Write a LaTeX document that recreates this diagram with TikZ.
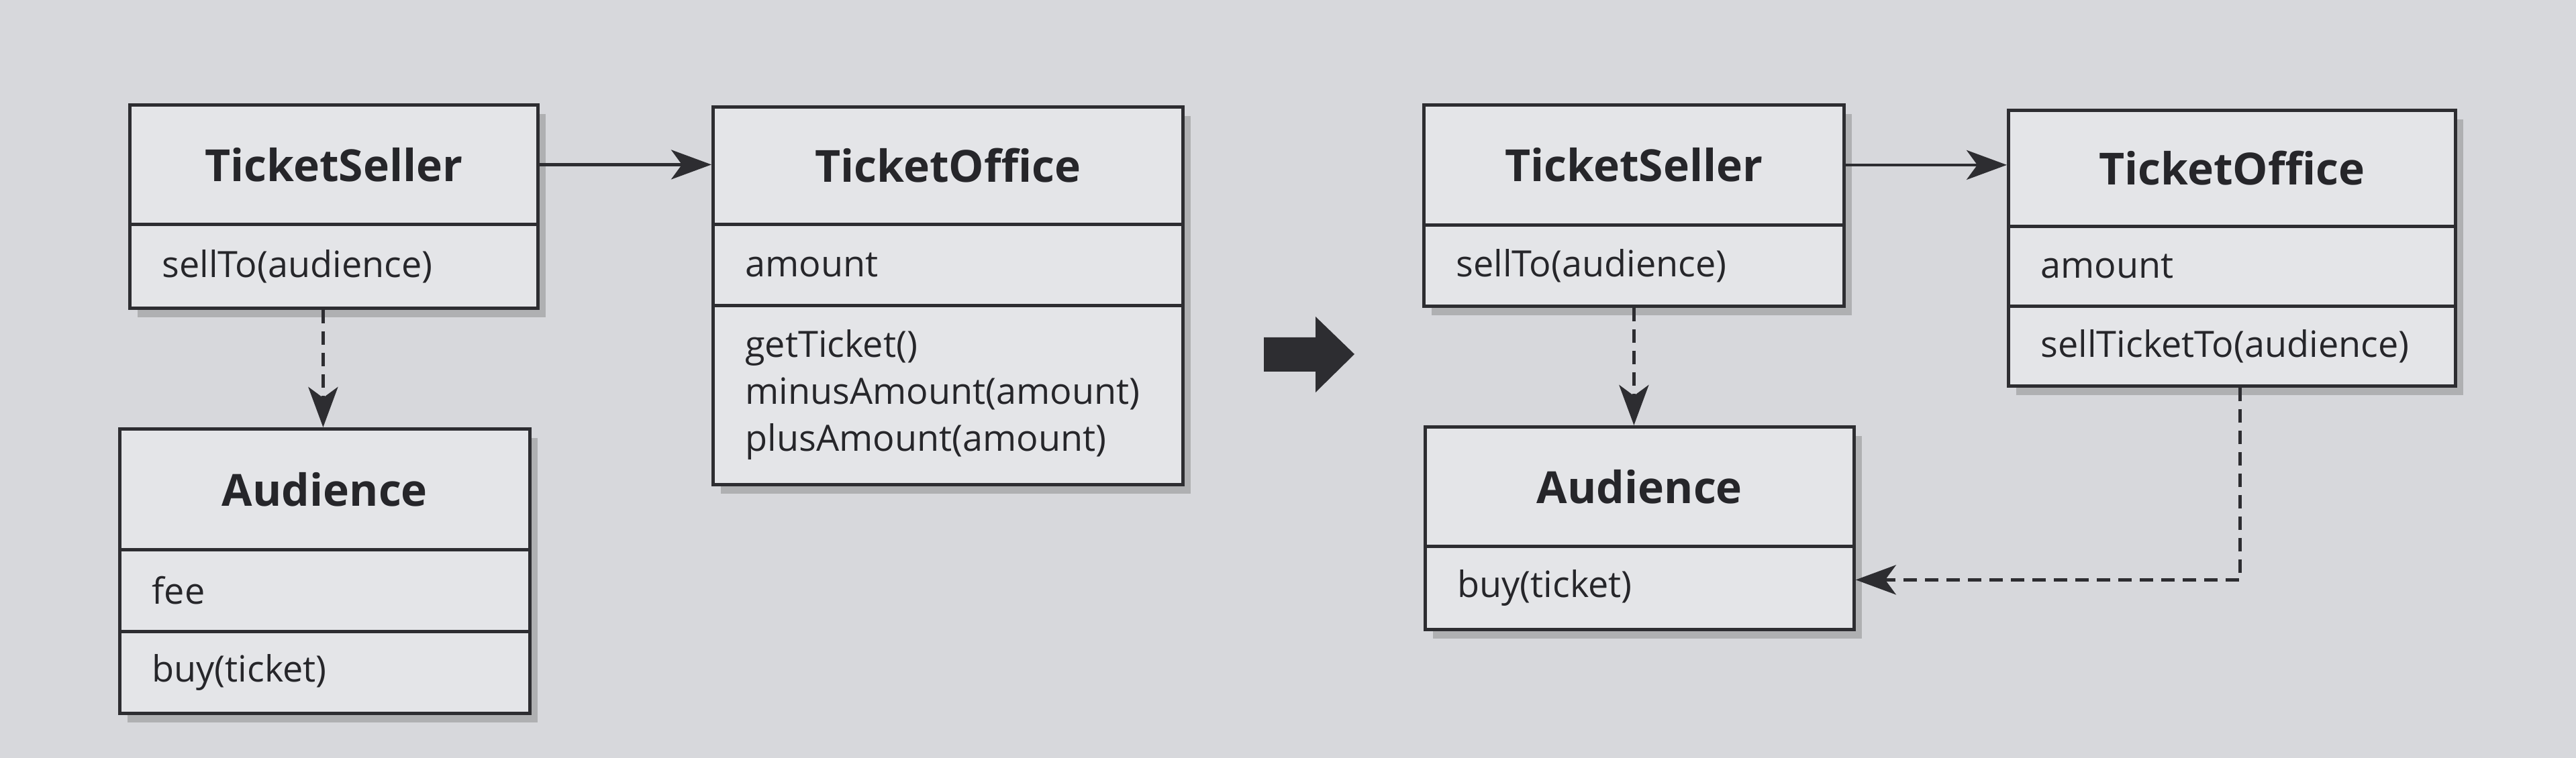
\documentclass[tikz,border=0pt]{standalone}
\usepackage{fontspec}
\setmainfont{Open Sans}
\usetikzlibrary{arrows.meta,shadows}
\definecolor{bgc}{RGB}{215,216,220}
\definecolor{boxc}{RGB}{228,229,232}
\definecolor{linec}{RGB}{45,45,49}
\definecolor{txtc}{RGB}{38,38,42}
\tikzset{
  classbox/.style={draw=linec, fill=boxc, line width=1.2pt, anchor=north west, inner sep=0pt,
    drop shadow={shadow xshift=3pt, shadow yshift=-3.5pt, fill=black!50, opacity=0.45}},
  comp/.style={draw=linec, fill=boxc, line width=1.2pt, anchor=north west, inner xsep=12pt,
    inner ysep=0pt, text=txtc, align=left, font=\fontsize{13.5}{17.5}\selectfont},
  hdr/.style={comp, align=center, font=\fontsize{16.5}{20}\selectfont\bfseries},
  assoc/.style={draw=linec, line width=1.1pt, -{Stealth[length=15pt,width=11pt,inset=4pt]}},
  dep/.style={assoc, line width=1.4pt, dash pattern=on 5pt off 3pt},
}
\begin{document}
\begin{tikzpicture}[x=1pt,y=-1pt]
\fill[bgc] (0,0) rectangle (959.5,282.5);
\useasboundingbox (0,0) rectangle (959.5,282.5);

% ---------- left: TicketSeller ----------
\node[classbox, minimum width=152pt, minimum height=75.75pt] (lts) at (47.75,38.5) {};
\node[hdr, minimum width=152pt, text width=128pt, minimum height=44.5pt] (ltsH) at (47.75,38.5) {TicketSeller};
\node[comp, minimum width=152pt, text width=128pt, minimum height=31.25pt] (ltsA) at (47.75,83) {sellTo(audience)};

% ---------- left: Audience ----------
\node[classbox, minimum width=152.75pt, minimum height=106pt] (lau) at (44,159.25) {};
\node[hdr, minimum width=152.75pt, text width=128.75pt, minimum height=45pt] (lauH) at (44,159.25) {Audience};
\node[comp, minimum width=152.75pt, text width=128.75pt, minimum height=30.5pt] (lauA) at (44,204.25) {fee};
\node[comp, minimum width=152.75pt, text width=128.75pt, minimum height=30.5pt] (lauM) at (44,234.75) {buy(ticket)};

% ---------- left: TicketOffice ----------
\node[classbox, minimum width=175pt, minimum height=140.75pt] (lto) at (265,39.25) {};
\node[hdr, minimum width=175pt, text width=151pt, minimum height=43.75pt] (ltoH) at (265,39.25) {TicketOffice};
\node[comp, minimum width=175pt, text width=151pt, minimum height=30.25pt] (ltoA) at (265,83) {amount};
\node[comp, minimum width=175pt, text width=151pt, minimum height=66.75pt] (ltoM) at (265,113.25) {getTicket()\\minusAmount(amount)\\plusAmount(amount)};

% ---------- right: TicketSeller ----------
\node[classbox, minimum width=156.5pt, minimum height=75pt] (rts) at (529.75,38.5) {};
\node[hdr, minimum width=156.5pt, text width=132.5pt, minimum height=44.75pt] (rtsH) at (529.75,38.5) {TicketSeller};
\node[comp, minimum width=156.5pt, text width=132.5pt, minimum height=30.25pt] (rtsA) at (529.75,83.25) {sellTo(audience)};

% ---------- right: TicketOffice ----------
\node[classbox, minimum width=166.5pt, minimum height=102.75pt] (rto) at (747.5,40.5) {};
\node[hdr, minimum width=166.5pt, text width=142.5pt, minimum height=43.25pt] (rtoH) at (747.5,40.5) {TicketOffice};
\node[comp, minimum width=166.5pt, text width=142.5pt, minimum height=29.75pt] (rtoA) at (747.5,83.75) {amount};
\node[comp, minimum width=166.5pt, text width=142.5pt, minimum height=29.75pt] (rtoM) at (747.5,113.5) {sellTicketTo(audience)};

% ---------- right: Audience ----------
\node[classbox, minimum width=159.75pt, minimum height=75.5pt] (rau) at (530.25,158.5) {};
\node[hdr, minimum width=159.75pt, text width=135.75pt, minimum height=44.5pt] (rauH) at (530.25,158.5) {Audience};
\node[comp, minimum width=159.75pt, text width=135.75pt, minimum height=31pt] (rauM) at (530.25,203) {buy(ticket)};

% ---------- connectors ----------
\draw[assoc] (ltsH.east) -- (ltsH.east -| lto.west);
\draw[dep] ([xshift=-4pt]lts.south) -- ([xshift=-4pt]lts.south |- lau.north);
\draw[assoc] (rtsH.east) -- (rtsH.east -| rto.west);
\draw[dep] (rts.south) -- (rts.south |- rau.north);
\draw[dep] ([xshift=3pt]rto.south) |- ([yshift=3pt]rauM.east);

% ---------- big arrow ----------
\fill[linec] (470.75,125.75) -- (490,125.75) -- (490,118) -- (504.5,132)
  -- (490,146.25) -- (490,138.5) -- (470.75,138.5) -- cycle;
\end{tikzpicture}
\end{document}
